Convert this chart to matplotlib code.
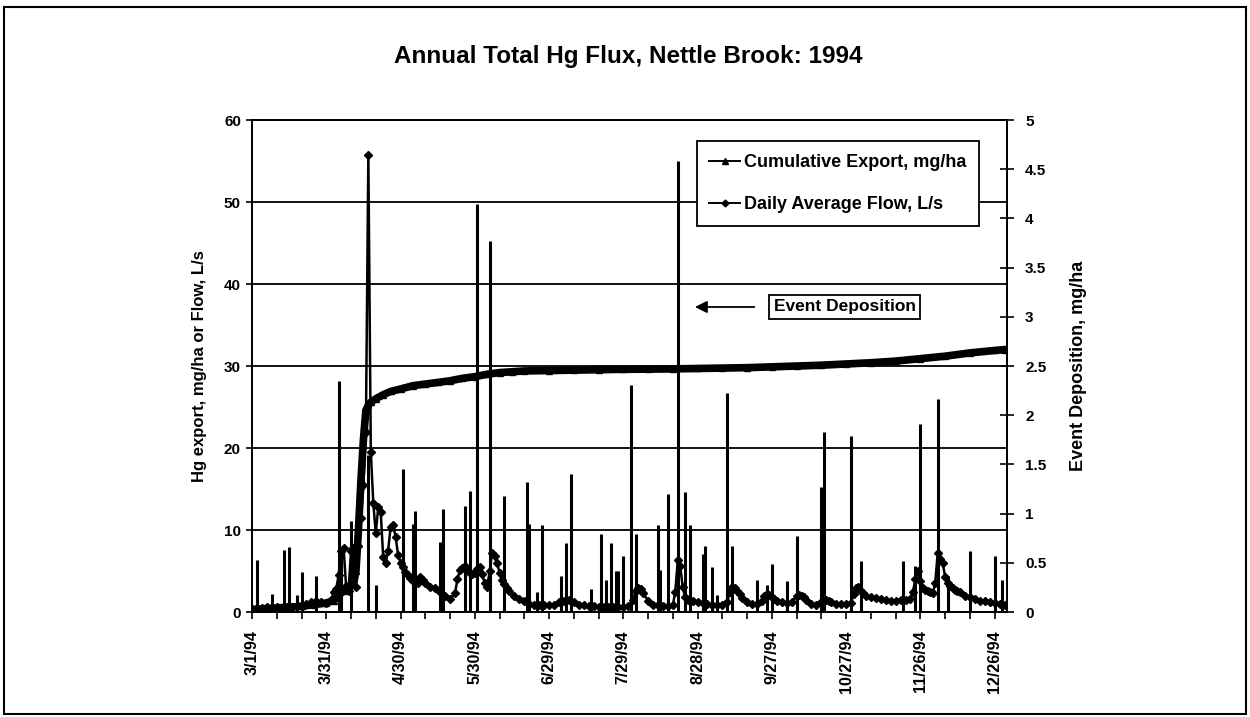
import matplotlib
matplotlib.use('Agg')
import matplotlib.pyplot as plt
from matplotlib.lines import Line2D
from matplotlib.patches import Rectangle
import datetime as dt

plt.rcParams['font.family'] = ['Liberation Sans', 'DejaVu Sans']
plt.rcParams['font.weight'] = 'bold'

START = dt.datetime(1994, 3, 1)

# Cumulative export (mg/ha): day offset from 3/1/94, value
cum_days = [0, 5, 10, 15, 20, 25, 30, 33, 35, 37, 39, 41, 42, 43, 44, 45, 46, 47, 48, 50, 53, 56,
            60, 65, 70, 75, 80, 85, 90, 95, 100, 105, 110, 120, 130, 140, 150, 160, 170, 180,
            190, 200, 210, 220, 230, 240, 250, 260, 270, 280, 290, 300, 304]
cum_vals = [0.3, 0.4, 0.5, 0.6, 0.7, 0.9, 1.1, 1.4, 2.0, 2.6, 3.0, 3.4, 5.0, 10.0, 16.0, 21.0, 24.6, 25.2, 25.6, 26.0, 26.5, 26.9,
            27.2, 27.6, 27.8, 28.0, 28.2, 28.5, 28.7, 29.0, 29.2, 29.3, 29.4, 29.45, 29.5, 29.55, 29.6, 29.62, 29.65, 29.7,
            29.75, 29.8, 29.9, 30.0, 30.1, 30.25, 30.4, 30.6, 30.9, 31.2, 31.6, 31.9, 32.0]

# Daily average flow (L/s)
flow_days = [0, 2, 4, 6, 8, 10, 12, 14, 16, 18, 20, 22, 24, 26, 28, 30, 32, 33, 34, 35, 36, 37, 38, 39,
             40, 41, 42, 43, 44, 45, 46, 47, 48, 49, 50, 51, 52, 53, 54, 55, 56, 57, 58, 59, 60, 61,
             62, 63, 64, 65, 66, 67, 68, 69, 70, 72, 74, 76, 78, 80, 82, 83, 84, 85, 86, 87, 88, 89,
             90, 91, 92, 93, 94, 95, 96, 97, 98, 99, 100, 101, 102, 103, 104, 106, 108, 110, 112, 114,
             116, 118, 120, 122, 124, 126, 128, 130, 132, 134, 136, 138, 140, 142, 144, 146, 148, 150,
             152, 154, 155, 156, 157, 158, 160, 162, 164, 166, 168, 170, 171, 172, 173, 174, 175, 176,
             178, 180, 182, 184, 186, 188, 190, 192, 193, 194, 195, 196, 197, 198, 200, 202, 204, 206,
             207, 208, 209, 210, 211, 212, 214, 216, 218, 220, 221, 222, 223, 224, 226, 228, 230, 231,
             232, 233, 234, 236, 238, 240, 242, 243, 244, 245, 246, 247, 248, 250, 252, 254, 256, 258,
             260, 262, 264, 266, 267, 268, 269, 270, 271, 272, 273, 274, 275, 276, 277, 278, 279, 280,
             281, 282, 283, 284, 285, 286, 288, 290, 292, 294, 296, 298, 300, 302, 304]
flow_vals = [0.4, 0.5, 0.5, 0.6, 0.5, 0.6, 0.5, 0.6, 0.6, 0.7, 0.8, 1.0, 1.2, 1.3, 1.2, 1.1, 1.5, 2.4, 2.8, 4.5, 7.5, 7.8, 3.2, 2.6,
             7.4, 7.8, 3.0, 8.0, 11.5, 15.5, 22.0, 55.7, 19.5, 13.3, 9.6, 12.8, 12.2, 6.7, 6.0, 7.5, 10.4, 10.6, 9.2, 7.0, 6.0, 5.5,
             4.9, 4.5, 4.1, 3.8, 3.7, 3.6, 4.3, 3.9, 3.5, 3.1, 2.9, 2.5, 2.0, 1.6, 2.3, 4.0, 5.1, 5.4, 5.6, 5.2, 4.8, 4.6,
             4.7, 5.2, 5.5, 4.6, 3.5, 3.0, 5.0, 7.2, 6.8, 6.0, 4.8, 3.9, 3.4, 2.9, 2.6, 2.0, 1.6, 1.3, 1.0, 0.9,
             0.8, 0.8, 0.8, 0.9, 1.2, 1.4, 1.5, 1.2, 0.9, 0.8, 0.7, 0.7, 0.6, 0.6, 0.6, 0.6, 0.6, 0.6,
             0.7, 1.5, 2.6, 2.9, 2.8, 2.3, 1.4, 0.9, 0.8, 0.7, 0.7, 0.8, 2.5, 6.3, 5.6, 3.0, 1.8, 1.5,
             1.3, 1.2, 1.1, 1.0, 0.9, 0.9, 0.9, 1.2, 2.5, 3.0, 2.9, 2.6, 2.2, 1.7, 1.2, 1.0, 1.0, 1.4,
             2.0, 2.2, 2.1, 1.8, 1.6, 1.4, 1.2, 1.1, 1.2, 1.9, 2.1, 2.0, 1.8, 1.5, 1.0, 0.8, 1.2, 1.6,
             1.5, 1.4, 1.2, 1.0, 1.0, 1.0, 1.1, 2.2, 2.9, 3.0, 2.6, 2.3, 2.0, 1.8, 1.7, 1.6, 1.5, 1.4,
             1.4, 1.5, 1.5, 1.6, 2.5, 4.0, 5.0, 3.8, 2.9, 2.7, 2.6, 2.4, 2.3, 3.5, 7.2, 6.5, 6.0, 4.3,
             3.6, 3.2, 2.9, 2.7, 2.6, 2.4, 2.0, 1.8, 1.6, 1.4, 1.3, 1.2, 1.1, 1.0, 0.9]

# Event deposition (mg/ha, right axis)
dep_days = [2, 8, 13, 15, 18, 20, 26, 35, 36, 40, 47, 50, 61, 65, 66, 76, 77, 86, 88, 91, 96, 102,
            111, 112, 115, 117, 125, 127, 129, 137, 141, 143, 145, 147, 148, 150, 153, 155, 164, 165,
            168, 172, 175, 177, 182, 183, 186, 188, 192, 194, 204, 208, 210, 216, 220, 230, 231, 242,
            246, 263, 268, 270, 277, 281, 290, 300, 303]
dep_vals = [0.53, 0.18, 0.63, 0.66, 0.17, 0.41, 0.37, 2.35, 0.63, 0.93, 1.6, 0.27, 1.45, 0.89, 1.03, 0.71, 1.05, 1.08, 1.23, 4.15, 3.77, 1.18,
            1.32, 0.89, 0.2, 0.88, 0.37, 0.7, 1.4, 0.23, 0.79, 0.33, 0.7, 0.42, 0.42, 0.57, 2.31, 0.79, 0.88, 0.43,
            1.2, 4.58, 1.22, 0.88, 0.59, 0.67, 0.46, 0.17, 2.23, 0.67, 0.33, 0.27, 0.49, 0.32, 0.77, 1.27, 1.83, 1.79,
            0.52, 0.52, 0.47, 1.91, 2.17, 0.37, 0.62, 0.57, 0.33]

left_ticks = [0, 10, 20, 30, 40, 50, 60]
right_ticks = [0, 0.5, 1, 1.5, 2, 2.5, 3, 3.5, 4, 4.5, 5]
right_labels = ['0', '0.5', '1', '1.5', '2', '2.5', '3', '3.5', '4', '4.5', '5']


def to_dates(days):
    return [START + dt.timedelta(days=d) for d in days]


fig = plt.figure(figsize=(12.5, 7.17), dpi=100)
fig.patch.set_facecolor('white')
ax = fig.add_axes([0.2016, 0.1464, 0.6040, 0.6862])
ax2 = ax.twinx()

ax.set_ylim(0, 60)
ax2.set_ylim(0, 5)
ax.set_xlim(START, START + dt.timedelta(days=305))

ax.set_yticks(left_ticks)
ax.set_yticklabels([str(t) for t in left_ticks], fontsize=11, fontweight='bold')
ax2.set_yticks(right_ticks)
ax2.set_yticklabels(right_labels, fontsize=11, fontweight='bold')

ax.yaxis.grid(True, color='black', lw=1.3)
ax.set_axisbelow(True)

# event deposition bars
ax2.vlines(to_dates(dep_days), 0, dep_vals, color='black', lw=2.2, zorder=2)

# cumulative export
ax.plot(to_dates(cum_days), cum_vals, color='black', lw=5.5, marker='^', ms=5, zorder=3)
# flow
ax.plot(to_dates(flow_days), flow_vals, color='black', lw=1.8, marker='D', ms=4, zorder=4)

ax.set_zorder(ax2.get_zorder() + 1)
ax.patch.set_visible(False)

# x ticks
major = to_dates(range(0, 301, 30))
minor = to_dates(range(0, 306, 10))
ax.set_xticks(major)
ax.set_xticks(minor, minor=True)
ax.set_xticklabels([f"{d.month}/{d.day}/{d.year % 100}" for d in major], rotation=90,
                   fontsize=11.5, fontweight='bold')
ax.tick_params(axis='x', which='both', direction='out', length=5, width=1.2, pad=8)
ax.tick_params(axis='y', direction='out', length=4, width=1.2, pad=4)
ax2.tick_params(axis='y', direction='inout', length=10, width=1.2, pad=8)

for a in (ax, ax2):
    for s in a.spines.values():
        s.set_color('black')
        s.set_linewidth(1.3)

ax.set_ylabel('Hg export, mg/ha or Flow, L/s', fontsize=12, fontweight='bold', labelpad=12)
ax2.set_ylabel('Event Deposition, mg/ha', fontsize=13, fontweight='bold', labelpad=17)

handles = [Line2D([], [], color='black', marker='^', ms=4, lw=1.4),
           Line2D([], [], color='black', marker='D', ms=3.5, lw=1.4)]
leg = ax.legend(handles, ['Cumulative Export, mg/ha', 'Daily Average Flow, L/s'],
                loc='upper left', bbox_to_anchor=(0.589, 0.957), fancybox=False,
                edgecolor='black', framealpha=1, prop={'size': 13, 'weight': 'bold'},
                handlelength=1.7, handletextpad=0.2, labelspacing=1.4, borderpad=0.7,
                borderaxespad=0)
leg.get_frame().set_linewidth(1.3)
leg.set_zorder(10)

ax.text(0.785, 0.62, 'Event Deposition', transform=ax.transAxes, ha='center', va='center',
        fontsize=12.5, fontweight='bold', zorder=10,
        bbox=dict(boxstyle='square,pad=0.25', fc='white', ec='black', lw=1.3))
ax.annotate('', xy=(0.583, 0.62), xytext=(0.669, 0.62), xycoords='axes fraction',
            arrowprops=dict(arrowstyle='-|>', color='black', lw=1.3, mutation_scale=18), zorder=10)

fig.text(0.5024, 0.921, 'Annual Total Hg Flux, Nettle Brook: 1994', ha='center', va='center',
         fontsize=17.5, fontweight='bold')

fig.patches.append(Rectangle((0.003, 0.004), 0.994, 0.986, transform=fig.transFigure,
                             fill=False, ec='black', lw=1.5))

fig.savefig('out.png', dpi=100)
